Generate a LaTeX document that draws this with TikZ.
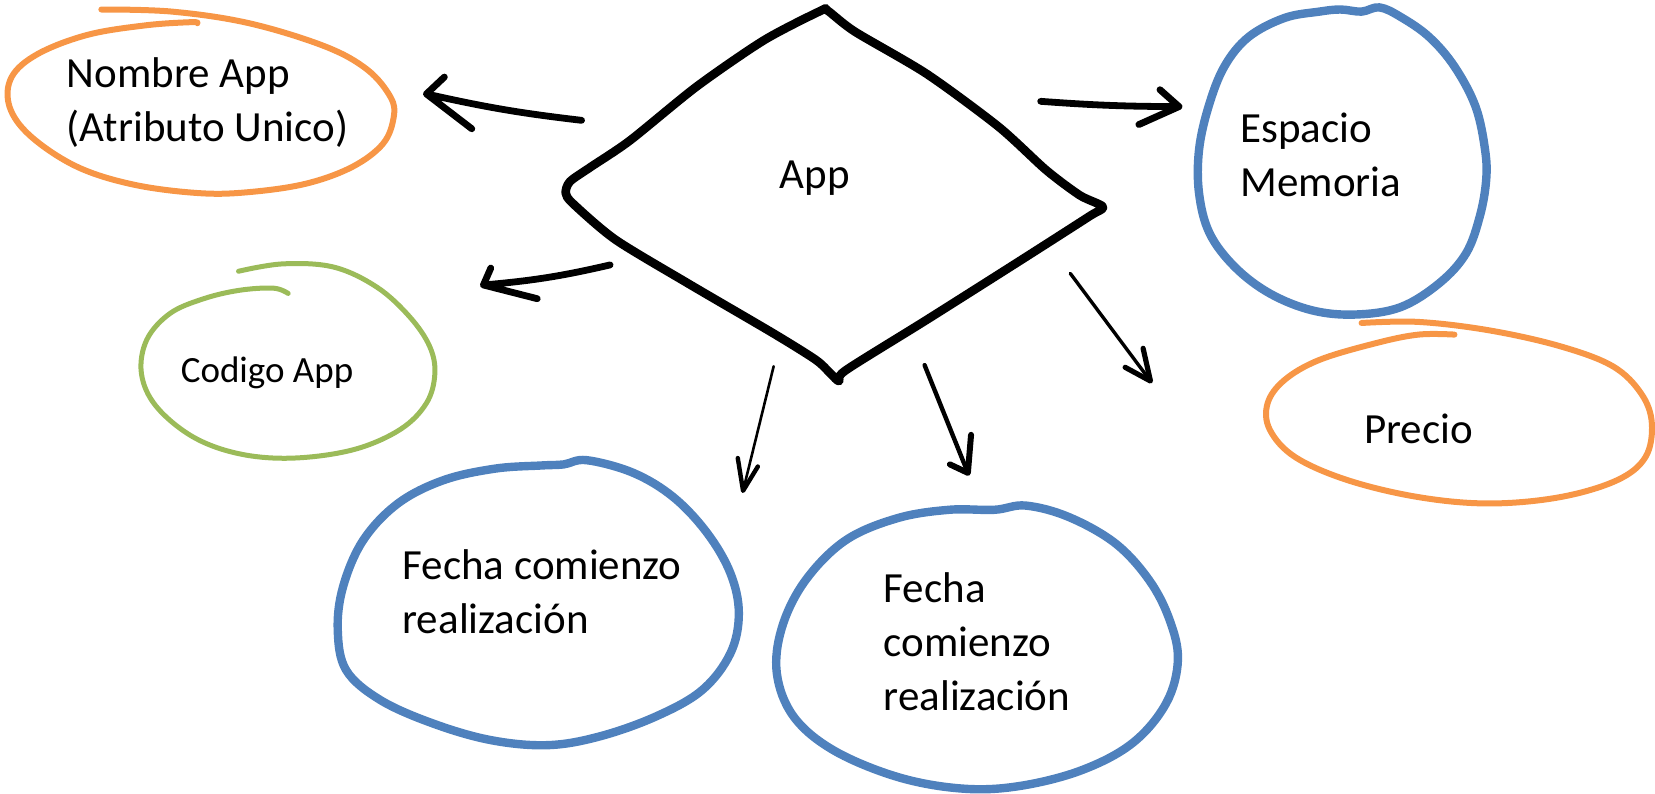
\documentclass[tikz,border=0pt]{standalone}
\usepackage{fontspec}
\setmainfont{Carlito}
\definecolor{offorange}{HTML}{F79646}
\definecolor{offblue}{HTML}{4F81BD}
\definecolor{offgreen}{HTML}{9BBB59}
\begin{document}
\begin{tikzpicture}[x=0.52774pt,y=-0.52774pt,
  blob/.style={line width=4.2pt, line join=round, line cap=round},
  blueblob/.style={blob, draw=offblue},
  orangeblob/.style={blob, line width=3pt, draw=offorange},
  greenblob/.style={blob, line width=2.5pt, draw=offgreen},
  diam/.style={line width=4.3pt, line join=round, draw=black},
  lbl/.style={font=\fontsize{21.5}{27}\selectfont, inner sep=0pt, align=left},
  conn/.style={line cap=round, line join=round, draw=black},
  thickconn/.style={conn, line width=3.4pt},
]
\useasboundingbox (0,0) rectangle (1568,752);

% ---- shapes ----
\draw[diam] plot[smooth cycle, tension=0.45] coordinates {
 (778,10) (724,38) (660,82) (597,133) (560,158) (540,172) (536,183) (543,193)
 (583,227) (651,268) (733,316) (773,341) (787,354) (795,361) (801,351)
 (878,303) (968,246) (1032,205) (1045,196) (1023,185) (991,161) (946,120)
 (878,70) (810,30) (784,10)};

\draw[orangeblob] plot[smooth, tension=0.6] coordinates {
 (96,9) (163,11) (236,22) (308,44) (348,66) (370,92) (373,111) (363,136)
 (334,158) (290,174) (236,182) (189,183) (127,175) (73,158) (29,129) (9,101)
 (11,73) (36,51) (83,33) (138,24) (181,21) (187,22)};

\draw[greenblob] plot[smooth, tension=0.6] coordinates {
 (226,257) (268,250) (316,253) (357,272) (388,300) (407,328) (412,354) (404,382)
 (379,407) (335,426) (278,434) (227,430) (183,414) (148,385) (134,354) (139,322)
 (161,297) (193,283) (227,275) (259,273) (273,278)};

\draw[blueblob] plot[smooth cycle, tension=0.6] coordinates {
 (1307,7) (1327,16) (1354,35) (1378,63) (1398,101) (1407,142) (1408,171) (1402,205)
 (1389,240) (1364,268) (1327,291) (1284,298) (1243,294) (1203,278) (1170,253)
 (1146,221) (1136,183) (1136,142) (1145,101) (1160,63) (1183,35) (1217,17)
 (1250,11) (1270,9) (1290,11)};

\draw[orangeblob] plot[smooth, tension=0.6] coordinates {
 (1290,306) (1344,305) (1411,313) (1478,328) (1528,347) (1555,373) (1565,401)
 (1559,433) (1532,455) (1478,471) (1411,477) (1344,471) (1277,455) (1227,433)
 (1203,407) (1201,382) (1217,360) (1250,341) (1304,325) (1344,317) (1378,317)};

\draw[blueblob] plot[smooth cycle, tension=0.6] coordinates {
 (556,436) (600,448) (638,471) (670,505) (692,543) (700,581) (692,619) (665,654)
 (621,679) (567,698) (518,706) (464,701) (409,685) (360,663) (328,635) (320,597)
 (325,556) (344,512) (377,477) (420,455) (469,444) (513,441) (534,440)};

\draw[blueblob] plot[smooth cycle, tension=0.6] coordinates {
 (972,479) (1013,490) (1057,515) (1089,550) (1108,587) (1116,625) (1105,666)
 (1073,704) (1024,730) (964,745) (910,747) (850,736) (790,711) (752,679)
 (736,638) (741,594) (763,550) (801,512) (850,491) (899,483) (942,483)};

% ---- labels ----
\node[lbl, anchor=west] (nombre) at (63,98) {\strut Nombre App\\\strut (Atributo Unico)};
\node[lbl, anchor=base] (app) at (772,179) {App};
\node[lbl, anchor=west] (espacio) at (1175,150) {\strut Espacio\\\strut Memoria};
\node[lbl, anchor=base] (precio) at (1344,420) {Precio};
\node[lbl, anchor=base, font=\fontsize{18.5}{22}\selectfont] (codigo) at (253,362.5) {Codigo App};
\node[lbl, anchor=west] (fecha1) at (381,564) {\strut Fecha comienzo\\\strut realización};
\node[lbl, anchor=west] (fecha2) at (837,612) {\strut Fecha\\\strut comienzo\\\strut realización};

% ---- connector ends (start, tip, short barb, long barb) ----
\coordinate (s1) at (551,114);  \coordinate (t1) at (404,89);
\coordinate (u1) at (421,73);   \coordinate (l1) at (447,122);
\coordinate (s2) at (578,251);  \coordinate (t2) at (458,270);
\coordinate (u2) at (465,254);  \coordinate (l2) at (509,283);
\coordinate (s3) at (986,96);   \coordinate (t3) at (1117,101);
\coordinate (u3) at (1099,85);  \coordinate (l3) at (1079,118);
\coordinate (s4) at (1014,259); \coordinate (t4) at (1090,361);
\coordinate (u4) at (1083,330); \coordinate (l4) at (1066,348);
\coordinate (s5) at (733,347);  \coordinate (t5) at (704,465);
\coordinate (u5) at (699,434);  \coordinate (l5) at (718,442);
\coordinate (s6) at (876,346);  \coordinate (t6) at (917,448);
\coordinate (u6) at (920,412);  \coordinate (l6) at (900,440);

% ---- connectors with hand-drawn heads ----
\draw[thickconn] (s1) to[bend left=3] (t1) -- (u1) (t1) -- (l1);
\draw[thickconn] (s2) to[bend left=4] (t2) -- (u2) (t2) -- (l2);
\draw[thickconn] (s3) to[bend right=2] (t3) -- (u3) (t3) -- (l3);
\draw[conn, line width=1.7pt] (s4) -- (t4);
\draw[conn, line width=2.6pt] (u4) -- (t4) -- (l4);
\draw[conn, line width=1.3pt] (s5) -- (t5);
\draw[conn, line width=2.2pt] (u5) -- (t5) -- (l5);
\draw[conn, line width=2.2pt] (s6) -- (t6);
\draw[conn, line width=3pt] (u6) -- (t6) -- (l6);
\end{tikzpicture}
\end{document}
